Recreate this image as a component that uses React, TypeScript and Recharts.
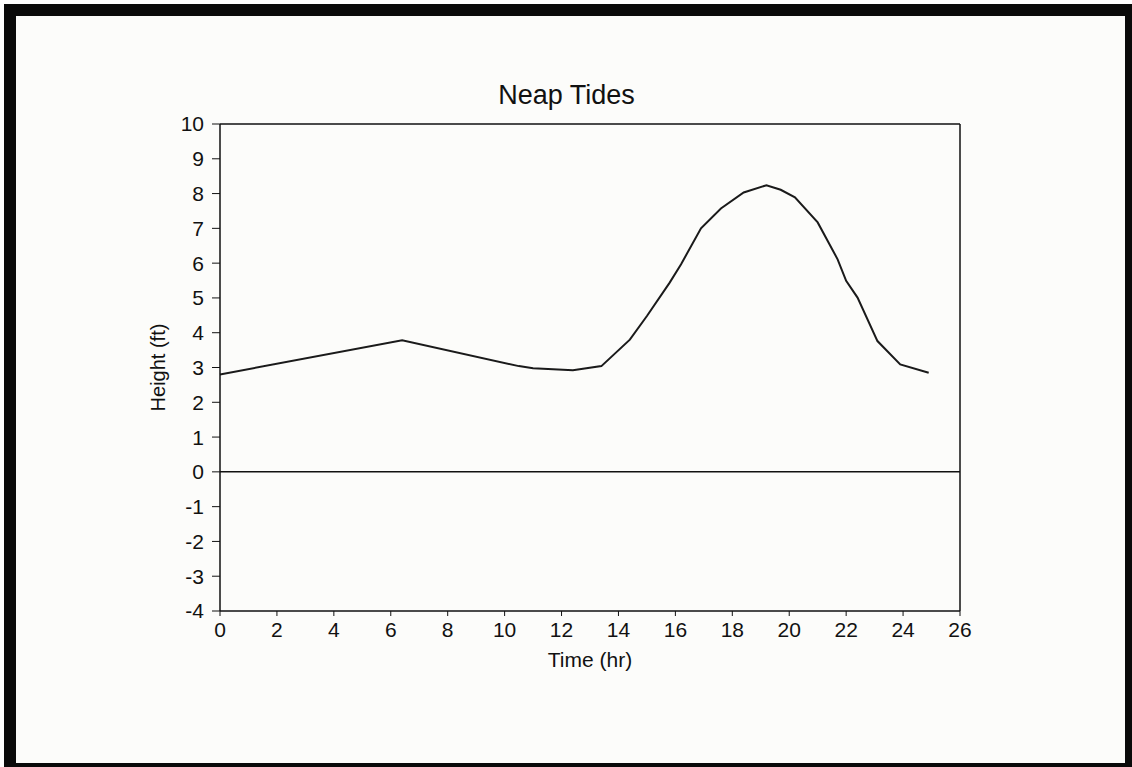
import React from "react";
import {
  LineChart,
  Line,
  XAxis,
  YAxis,
  ReferenceLine,
  Label,
} from "recharts";

// hours since start
const hours = [
  0, 6.4, 10.5, 11, 12.4, 13.4, 14.4, 15, 15.8, 16.2, 16.9, 17.6, 18.4, 19.2,
  19.7, 20.2, 21, 21.7, 22, 22.4, 23.1, 23.9, 24.9,
];
// tide height (ft)
const heights = [
  2.8, 3.78, 3.04, 2.98, 2.92, 3.04, 3.8, 4.48, 5.44, 5.97, 7.0, 7.57, 8.03,
  8.24, 8.11, 7.89, 7.17, 6.11, 5.49, 5.01, 3.76, 3.09, 2.85,
];
const xTicks = [0, 2, 4, 6, 8, 10, 12, 14, 16, 18, 20, 22, 24, 26];
const yTicks = [-4, -3, -2, -1, 0, 1, 2, 3, 4, 5, 6, 7, 8, 9, 10];

const font = "'Liberation Sans', Arial, sans-serif";
const ink = "#111";

export default function App() {
  const data = hours.map((t, i) => ({ t, h: heights[i] }));

  return (
    <div
      style={{
        position: "fixed",
        left: 0,
        top: 0,
        width: 1132,
        height: 767,
        overflow: "hidden",
        background: "#fff",
        fontFamily: font,
      }}
    >
      {/* thick black frame round the slide */}
      <div
        style={{
          position: "absolute",
          left: 4,
          top: 4,
          width: 1133,
          height: 771,
          boxSizing: "border-box",
          border: "12px solid #0a0a0a",
          background: "#fcfcfa",
        }}
      />
      <div
        style={{
          position: "absolute",
          left: 0,
          width: 1133,
          top: 82,
          textAlign: "center",
          fontSize: 27,
          lineHeight: "27px",
          color: ink,
        }}
      >
        Neap Tides
      </div>
      <div style={{ position: "absolute", left: 0, top: 0 }}>
        <LineChart
          width={1132}
          height={767}
          data={data}
          margin={{ top: 124, right: 172, left: 160, bottom: 86 }}
        >
          <XAxis
            dataKey="t"
            type="number"
            domain={[0, 26]}
            ticks={xTicks}
            interval={0}
            height={70}
            tickSize={5}
            tickMargin={6}
            axisLine={{ stroke: ink, strokeWidth: 1.5 }}
            tickLine={{ stroke: ink }}
            tick={{ fill: ink, fontSize: 21, fontFamily: font }}
          >
            <Label
              value="Time (hr)"
              position="insideBottom"
              offset={14}
              fill={ink}
              fontSize={21}
              fontFamily={font}
            />
          </XAxis>
          <YAxis
            type="number"
            domain={[-4, 10]}
            ticks={yTicks}
            interval={0}
            width={60}
            tickSize={8}
            tickMargin={8}
            axisLine={{ stroke: ink, strokeWidth: 1.5 }}
            tickLine={{ stroke: ink }}
            tick={{ fill: ink, fontSize: 21, fontFamily: font }}
          >
            <Label
              value="Height (ft)"
              position="center"
              angle={-90}
              dx={-32}
              fill={ink}
              fontSize={20}
              fontFamily={font}
            />
          </YAxis>
          <ReferenceLine y={10} stroke={ink} strokeWidth={1.5} />
          <ReferenceLine x={26} stroke={ink} strokeWidth={1.5} />
          <ReferenceLine y={0} stroke={ink} strokeWidth={1.5} />
          <Line
            type="linear"
            dataKey="h"
            stroke="#1a1a1a"
            strokeWidth={2}
            dot={false}
            isAnimationActive={false}
          />
        </LineChart>
      </div>
    </div>
  );
}
